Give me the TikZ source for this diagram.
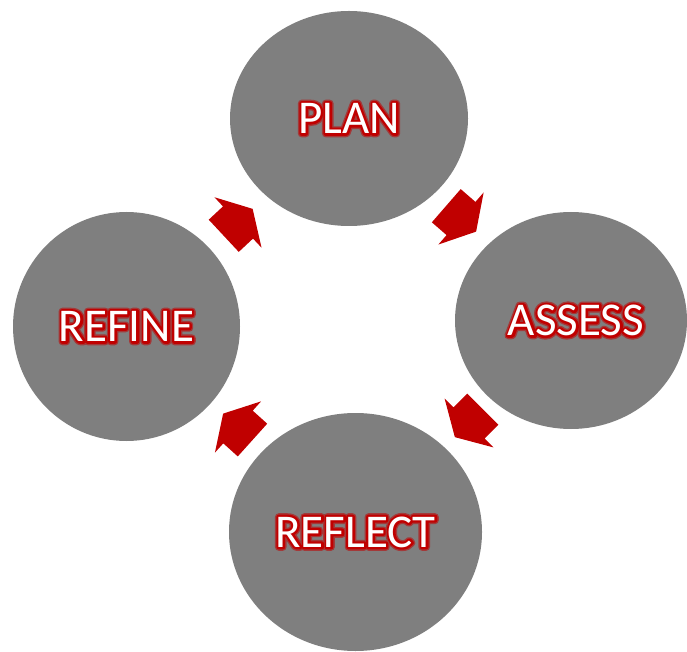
\documentclass[tikz,border=0pt]{standalone}
\usepackage{fontspec}
\setmainfont{Carlito}
\usepackage{tikz}
\usetikzlibrary{shapes.geometric}
\definecolor{stagegray}{HTML}{7F7F7F}
\definecolor{cyclered}{HTML}{C00000}
\newcommand\strokedtext[3]{\makebox[0pt]{\textcolor{#3}{\special{pdf:literal direct 2 Tr #2 w 1 j}#1\special{pdf:literal direct 0 Tr}}}}
\newcommand\glowtext[1]{\strokedtext{#1}{7.4}{cyclered!55!stagegray}\strokedtext{#1}{4.6}{cyclered}\makebox[0pt]{\textcolor{white}{#1}}}
\tikzset{
  stage/.style={ellipse, fill=stagegray, inner sep=0pt, font=\fontsize{47}{56}\selectfont},
  cyclearrow/.style={fill=cyclered}
}

\begin{document}
\begin{tikzpicture}[x=1pt, y=1pt]
            \useasboundingbox (0,0) rectangle (687,651);
            \node [stage, minimum width=238pt, minimum height=215pt] (plan) at (349,532.5) {\glowtext{PLAN}};
            \node [stage, minimum width=232pt, minimum height=217pt] (assess) at (571,330.5) {\hspace{10pt}\glowtext{ASSESS}};
            \node [stage, minimum width=253pt, minimum height=238pt] (reflect) at (355.5,119) {\glowtext{REFLECT}};
            \node [stage, minimum width=227pt, minimum height=229pt] (refine) at (126.5,324.5) {\glowtext{REFINE}};
            \foreach \pos/\ang in {{(238,428.5)}/43, {(461,432.5)}/-41, {(469,228)}/-135, {(238,224)}/138}
                \fill [cyclearrow, shift={\pos}, rotate=\ang] (-19.5,-22) -- (0,-22) -- (0,-34.5) -- (20,0) -- (0,34.5) -- (0,22) -- (-19.5,22) -- cycle;
        \end{tikzpicture}
\end{document}
